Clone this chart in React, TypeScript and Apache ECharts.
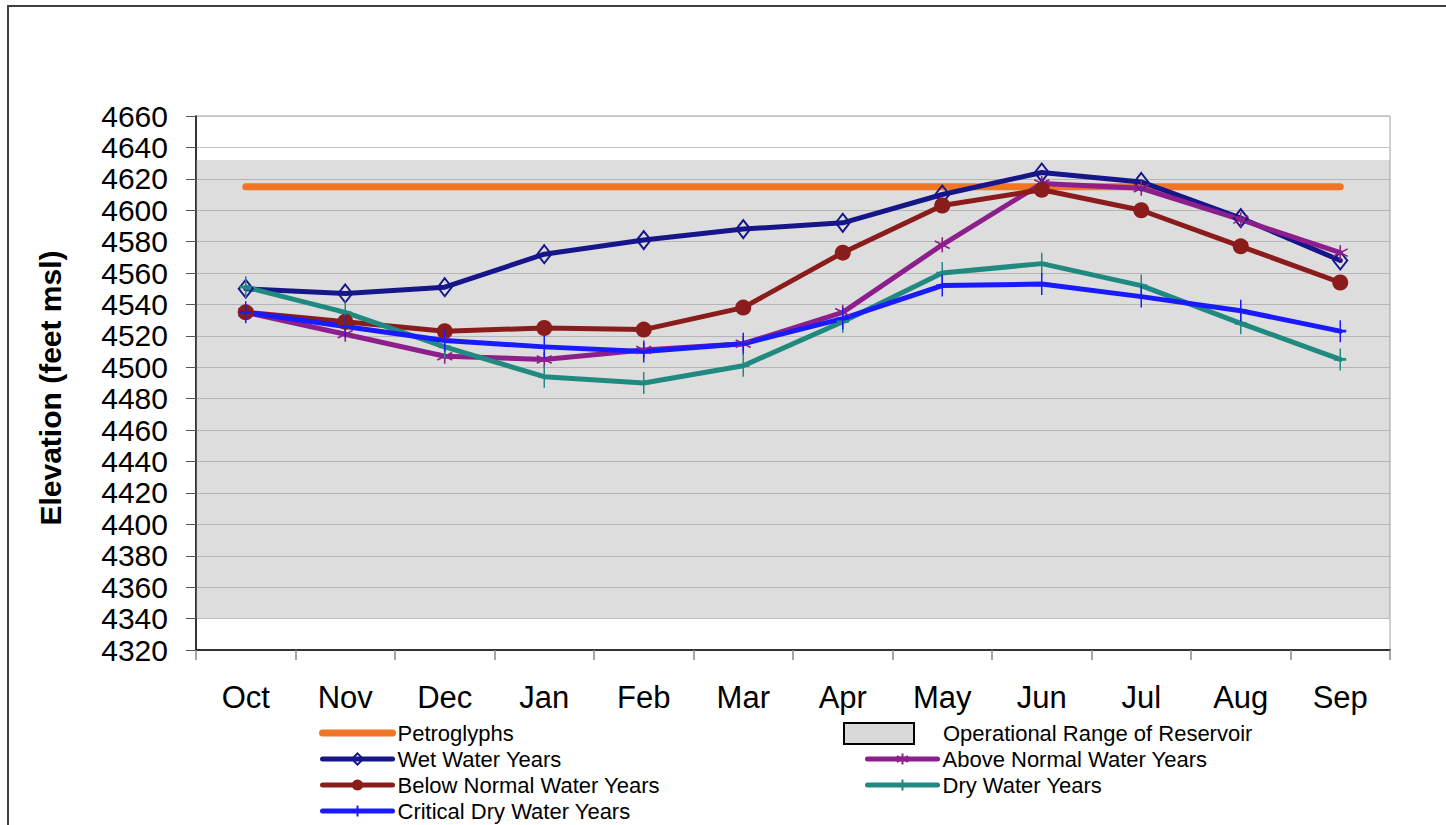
import React, { useEffect, useRef } from "react";
import * as echarts from "echarts";

const months = ["Oct", "Nov", "Dec", "Jan", "Feb", "Mar", "Apr", "May", "Jun", "Jul", "Aug", "Sep"];
const yTicks = { min: 4320, max: 4660, interval: 20 };
const operationalRange = [4340, 4632];
const petroglyphs = [4615, 4615, 4615, 4615, 4615, 4615, 4615, 4615, 4615, 4615, 4615, 4615];
const wetYears = [4550, 4547, 4551, 4572, 4581, 4588, 4592, 4610, 4624, 4618, 4595, 4568];
const aboveNormalYears = [4535, 4521, 4507, 4505, 4511, 4515, 4535, 4578, 4617, 4614, 4594, 4573];
const belowNormalYears = [4535, 4529, 4523, 4525, 4524, 4538, 4573, 4603, 4613, 4600, 4577, 4554];
const dryYears = [4551, 4535, 4513, 4494, 4490, 4501, 4529, 4560, 4566, 4552, 4528, 4505];
const criticalDryYears = [4535, 4526, 4517, 4513, 4510, 4515, 4531, 4552, 4553, 4545, 4536, 4523];

const FONT = "'Liberation Sans', Arial, Helvetica, sans-serif";
const ASTERISK = "path://M0,-10L0,10M-8.66,-5L8.66,5M-8.66,5L8.66,-5";
const PLUS = "path://M0,-10L0,10M-6,0L6,0";

export default function App() {
  const ref = useRef<HTMLDivElement>(null);
  useEffect(() => {
    if (!ref.current) return;
    const chart = echarts.init(ref.current, null, { renderer: "svg" });
    const legendText = { fontFamily: FONT, fontSize: 22, color: "#000", lineHeight: 22 };
    const lineSeries = (name: string, data: number[], color: string, symbol: string, size: any, extra: any = {}) => ({
      name,
      type: "line",
      data,
      symbol,
      symbolSize: size,
      lineStyle: { color, width: 5, cap: "round", join: "round" },
      itemStyle: { color, borderColor: color, borderWidth: 2 },
      z: 3,
      ...extra,
    });
    const legendBase = {
      orient: "vertical",
      padding: 0,
      itemWidth: 70,
      itemHeight: 14,
      itemGap: 4,
      height: 110,
      textStyle: legendText,
      lineStyle: { width: 5 },
    };
    chart.setOption({
      animation: false,
      backgroundColor: "#fff",
      grid: { left: 196, top: 116, width: 1194, height: 534, show: true, borderColor: "#a0a0a0", borderWidth: 1, backgroundColor: "transparent" },
      xAxis: {
        type: "category",
        data: months,
        boundaryGap: true,
        axisLine: { lineStyle: { color: "#000", width: 1.5 } },
        axisTick: { show: true, length: 10, lineStyle: { color: "#888", width: 1.5 } },
        axisLabel: { fontFamily: FONT, fontSize: 31, color: "#000", margin: 32 },
        splitLine: { show: false },
      },
      yAxis: {
        type: "value",
        min: yTicks.min,
        max: yTicks.max,
        interval: yTicks.interval,
        axisLine: { show: true, lineStyle: { color: "#000", width: 1.5 } },
        axisTick: { show: true, length: 10, lineStyle: { color: "#555", width: 1 } },
        axisLabel: {
          fontFamily: FONT,
          fontSize: 30,
          lineHeight: 30,
          color: "#000",
          margin: 28,
          formatter: (v: number) => String(v),
        },
        splitLine: { show: true, lineStyle: { color: "#c4c4c4", width: 1 } },
      },
      legend: [
        {
          ...legendBase,
          left: 319,
          top: 722,
          data: [
            {
              name: "Petroglyphs",
              lineStyle: { width: 7 },
              itemStyle: { color: "rgba(0,0,0,0)", borderColor: "rgba(0,0,0,0)", borderWidth: 0 },
            },
            "Wet Water Years",
            "Below Normal Water Years",
            "Critical Dry Water Years",
          ],
        },
        {
          ...legendBase,
          left: 843,
          top: 722,
          itemHeight: 21,
          height: 30,
          textStyle: { ...legendText, padding: [0, 0, 0, 24] },
          data: [
            {
              name: "Operational Range of Reservoir",
              icon: "rect",
              itemStyle: { color: "#d9d9d9", borderColor: "#000", borderWidth: 2 },
            },
          ],
        },
        {
          ...legendBase,
          left: 865,
          top: 748,
          height: 70,
          data: ["Above Normal Water Years", "Dry Water Years"],
        },
      ],
      graphic: [
        {
          type: "rect",
          shape: { x: 8, y: 6, width: 1480, height: 860 },
          style: { fill: "none", stroke: "#404040", lineWidth: 2 },
          silent: true,
        },
        {
          type: "text",
          x: 50,
          y: 388,
          rotation: Math.PI / 2,
          style: {
            text: "Elevation (feet msl)",
            fontFamily: FONT,
            fontSize: 30,
            fontWeight: "bold",
            fill: "#000",
            align: "center",
            verticalAlign: "middle",
          },
        },
      ],
      series: [
        {
          name: "Operational Range of Reservoir",
          type: "bar",
          data: [],
          itemStyle: { color: "#d9d9d9", borderColor: "#000", borderWidth: 2 },
        },
        {
          name: "Petroglyphs",
          type: "line",
          data: petroglyphs,
          showSymbol: false,
          symbol: "none",
          lineStyle: { color: "#f07524", width: 7, cap: "round" },
          itemStyle: { color: "#f07524" },
          z: 2,
          markArea: {
            silent: true,
            itemStyle: { color: "rgba(150,150,150,0.32)" },
            data: [[{ yAxis: operationalRange[0] }, { yAxis: operationalRange[1] }]],
          },
        },
        lineSeries("Wet Water Years", wetYears, "#16168a", "diamond", [14, 18], {
          itemStyle: { color: "rgba(0,0,0,0)", borderColor: "#16168a", borderWidth: 2 },
        }),
        lineSeries("Above Normal Water Years", aboveNormalYears, "#8c1f8c", ASTERISK, 15, {
          itemStyle: { color: "#8c1f8c", borderColor: "#8c1f8c", borderWidth: 1.6 },
        }),
        lineSeries("Below Normal Water Years", belowNormalYears, "#8b1c1c", "circle", 16, {
          itemStyle: { color: "#8b1c1c", borderColor: "#8b1c1c", borderWidth: 0 },
        }),
        lineSeries("Dry Water Years", dryYears, "#208a80", PLUS, [12, 22], {
          itemStyle: { color: "#208a80", borderColor: "#208a80", borderWidth: 2 },
        }),
        lineSeries("Critical Dry Water Years", criticalDryYears, "#1a1aff", PLUS, [12, 22], {
          itemStyle: { color: "#1a1aff", borderColor: "#1a1aff", borderWidth: 2 },
        }),
      ],
    });
    return () => chart.dispose();
  }, []);
  return <div ref={ref} style={{ position: "absolute", left: 0, top: 0, width: 1446, height: 825 }} />;
}
